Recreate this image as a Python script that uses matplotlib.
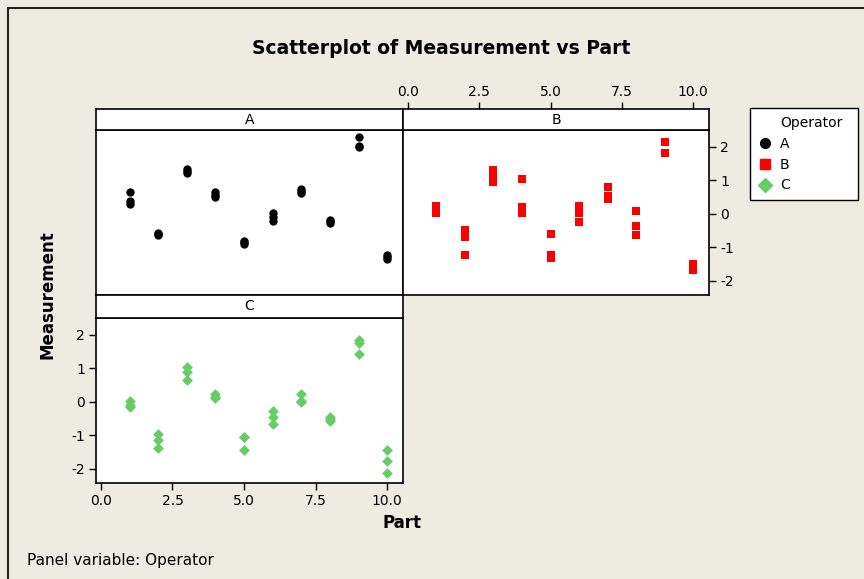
import matplotlib
matplotlib.use("Agg")
import matplotlib.pyplot as plt
from matplotlib.lines import Line2D
from matplotlib.patches import Rectangle

plt.rcParams["axes.unicode_minus"] = False
plt.rcParams["font.family"] = "DejaVu Sans"

# Part numbers (3 repeat measurements per part and operator)
parts = [1, 1, 1, 2, 2, 2, 3, 3, 3, 4, 4, 4, 5, 5, 5,
         6, 6, 6, 7, 7, 7, 8, 8, 8, 9, 9, 9, 10, 10, 10]

meas_a = [0.66, 0.37, 0.29, -0.56, -0.60, -0.63, 1.34, 1.27, 1.22,
          0.65, 0.55, 0.49, -0.80, -0.85, -0.91, 0.04, -0.09, -0.21,
          0.75, 0.68, 0.62, -0.17, -0.22, -0.27, 2.29, 2.02, 2.00,
          -1.23, -1.28, -1.34]
meas_b = [0.22, 0.12, 0.04, -0.49, -0.68, -1.22, 1.32, 1.14, 0.94,
          1.04, 0.19, 0.02, -0.59, -1.22, -1.32, 0.22, 0.04, -0.23,
          0.81, 0.54, 0.44, 0.09, -0.37, -0.63, 2.14, 1.81, 1.81,
          -1.49, -1.60, -1.68]
meas_c = [0.04, -0.10, -0.14, -0.96, -1.15, -1.37, 1.05, 0.88, 0.65,
          0.22, 0.15, 0.12, -1.05, -1.05, -1.45, -0.28, -0.46, -0.65,
          0.22, 0.02, 0.00, -0.46, -0.50, -0.56, 1.85, 1.74, 1.42,
          -1.44, -1.76, -2.12]

x_ticks = [0.0, 2.5, 5.0, 7.5, 10.0]
x_tick_labels = ["0.0", "2.5", "5.0", "7.5", "10.0"]
y_ticks = [-2, -1, 0, 1, 2]
y_tick_labels = ["-2", "-1", "0", "1", "2"]

BG = "#eeebe1"
RED = "#ff0000"
GREEN = "#66cc66"
W, H = 864, 579
XLIM = (-0.17, 10.55)
YLIM = (-2.42, 2.50)


def box(x0, y0, x1, y1):
    # pixel box (top-left origin) -> figure fraction rect
    return [x0 / W, 1 - y1 / H, (x1 - x0) / W, (y1 - y0) / H]


fig = plt.figure(figsize=(W / 100, H / 100), dpi=100, facecolor=BG)
fig.add_artist(Rectangle((8 / W, -0.1), 1.2, 1.1 - 8 / H, transform=fig.transFigure,
                         fill=False, edgecolor="#222222", linewidth=1.5))


def panel(rect, strip_rect, label):
    ax = fig.add_axes(box(*rect))
    st = fig.add_axes(box(*strip_rect))
    for a in (ax, st):
        a.set_facecolor("white")
        a.set_xlim(XLIM)
        a.tick_params(length=0, labelleft=False, labelbottom=False,
                      labelsize=10, width=1.0, direction="out")
        for s in a.spines.values():
            s.set_linewidth(1.2)
            s.set_color("black")
    ax.set_ylim(YLIM)
    ax.set_xticks(x_ticks)
    ax.set_yticks(y_ticks)
    st.set_xticks(x_ticks)
    st.set_yticks([])
    st.text(0.5, 0.5, label, transform=st.transAxes, ha="center", va="center",
            fontsize=10)
    return ax, st


ax_a, st_a = panel((96, 130, 403, 295), (96, 109, 403, 130), "A")
ax_b, st_b = panel((403, 130, 709, 295), (403, 109, 709, 130), "B")
ax_c, st_c = panel((96, 318, 403, 483), (96, 295, 403, 318), "C")

ax_a.scatter(parts, meas_a, marker="o", s=36, color="black", linewidths=0)
ax_b.scatter(parts, meas_b, marker="s", s=32, color=RED, linewidths=0)
ax_c.scatter(parts, meas_c, marker="D", s=30, color=GREEN, linewidths=0)

# B: top and right axes
st_b.tick_params(top=True, labeltop=True, bottom=False, length=5, pad=2)
st_b.set_xticklabels(x_tick_labels)
ax_b.yaxis.tick_right()
ax_b.tick_params(right=True, labelright=True, bottom=False, length=5, pad=3)
ax_b.set_yticklabels(y_tick_labels)

# C: left and bottom axes
ax_c.tick_params(left=True, labelleft=True, bottom=True, labelbottom=True,
                 length=5, pad=3)
ax_c.set_xticklabels(x_tick_labels)
ax_c.set_yticklabels(y_tick_labels)

fig.text(441 / W, 1 - 48 / H, "Scatterplot of Measurement vs Part",
         ha="center", va="center", fontsize=13.5, fontweight="bold")
fig.text(47 / W, 1 - 295 / H, "Measurement", rotation=90, ha="center",
         va="center", fontsize=12, fontweight="bold")
fig.text(402 / W, 1 - 523 / H, "Part", ha="center", va="center",
         fontsize=12, fontweight="bold")
fig.text(27 / W, 1 - 560 / H, "Panel variable: Operator", ha="left",
         va="center", fontsize=11)

handles = [
    Line2D([], [], linestyle="none", marker=None),
    Line2D([], [], linestyle="none", marker="o", color="black", markersize=7),
    Line2D([], [], linestyle="none", marker="s", color=RED, markersize=7),
    Line2D([], [], linestyle="none", marker="D", color=GREEN, markersize=7),
]
leg = fig.legend(handles, ["Operator", "A", "B", "C"], loc="upper left",
                 bbox_to_anchor=(750 / W, 1 - 197 / H, 108 / W, 89 / H),
                 mode="expand", frameon=True, fancybox=False,
                 edgecolor="black", facecolor="white", framealpha=1,
                 fontsize=10, handlelength=1.0, handletextpad=0.6,
                 labelspacing=0.5, borderpad=0.55, borderaxespad=0)
leg.get_frame().set_linewidth(1.0)

fig.savefig("out.png", dpi=100, facecolor=BG)
